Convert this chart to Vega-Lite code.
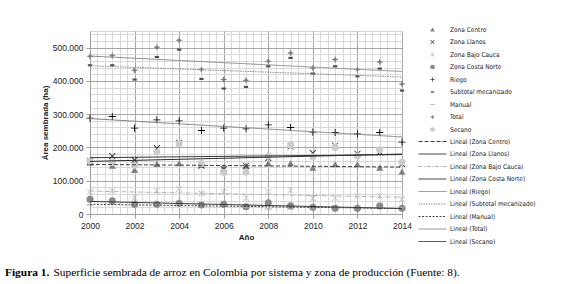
{
  "$schema": "https://vega.github.io/schema/vega-lite/v6.json",
  "autosize": "none",
  "width": 312,
  "height": 183,
  "padding": {"left": 90, "top": 31, "right": 166, "bottom": 70},
  "background": "white",
  "config": {
    "view": {"stroke": "#d4d4d4", "strokeWidth": 1},
    "axis": {"labelFont": "Liberation Sans", "labelFontSize": 8.5, "labelColor": "#222222", "titleFont": "Liberation Sans", "titleFontSize": 8, "titleFontWeight": "bold", "titleColor": "#222222", "domainColor": "#a0a0a0"},
    "legend": {"labelFont": "DejaVu Sans Condensed, Liberation Sans, sans-serif", "labelFontSize": 6.5, "labelColor": "#222222", "padding": 0, "rowPadding": 5.5, "labelOffset": 14}
  },
  "title": {
    "text": "Figura 1.",
    "subtitle": "\u200b\u00a0\u00a0\u00a0\u00a0\u00a0\u00a0\u00a0\u00a0\u00a0\u00a0\u00a0\u00a0\u00a0\u00a0\u00a0\u00a0\u00a0Superficie sembrada de arroz en Colombia por sistema y zona de producción (Fuente: 8).",
    "orient": "bottom",
    "anchor": "start",
    "frame": "group",
    "dx": -85,
    "offset": 22,
    "font": "Liberation Serif",
    "fontSize": 11.4,
    "fontWeight": "bold",
    "color": "#000000",
    "subtitleFont": "Liberation Serif",
    "subtitleFontSize": 11.4,
    "subtitleFontWeight": "normal",
    "subtitleColor": "#000000",
    "subtitlePadding": -11.4
  },
  "datasets": {
    "trends": [
      {"series": "Zona Centro", "trend": "Lineal (Zona Centro)"},
      {"series": "Zona Llanos", "trend": "Lineal (Zona Llanos)"},
      {"series": "Zona Bajo Cauca", "trend": "Lineal (Zona Bajo Cauca)"},
      {"series": "Zona Costa Norte", "trend": "Lineal (Zona Costa Norte)"},
      {"series": "Riego", "trend": "Lineal (Riego)"},
      {"series": "Subtotal mecanizado", "trend": "Lineal (Subtotal mecanizado)"},
      {"series": "Manual", "trend": "Lineal (Manual)"},
      {"series": "Total", "trend": "Lineal (Total)"},
      {"series": "Secano", "trend": "Lineal (Secano)"}
    ]
  },
  "data": {"values": [
    {"year": 2000, "series": "Zona Centro", "value": 154500},
    {"year": 2001, "series": "Zona Centro", "value": 145500},
    {"year": 2002, "series": "Zona Centro", "value": 132500},
    {"year": 2003, "series": "Zona Centro", "value": 150500},
    {"year": 2004, "series": "Zona Centro", "value": 152500},
    {"year": 2005, "series": "Zona Centro", "value": 147500},
    {"year": 2006, "series": "Zona Centro", "value": 138000},
    {"year": 2007, "series": "Zona Centro", "value": 144500},
    {"year": 2008, "series": "Zona Centro", "value": 152500},
    {"year": 2009, "series": "Zona Centro", "value": 152500},
    {"year": 2010, "series": "Zona Centro", "value": 139500},
    {"year": 2011, "series": "Zona Centro", "value": 149500},
    {"year": 2012, "series": "Zona Centro", "value": 149500},
    {"year": 2013, "series": "Zona Centro", "value": 139500},
    {"year": 2014, "series": "Zona Centro", "value": 127500},
    {"year": 2000, "series": "Zona Llanos", "value": 159000},
    {"year": 2001, "series": "Zona Llanos", "value": 174000},
    {"year": 2002, "series": "Zona Llanos", "value": 162000},
    {"year": 2003, "series": "Zona Llanos", "value": 198000},
    {"year": 2004, "series": "Zona Llanos", "value": 214000},
    {"year": 2005, "series": "Zona Llanos", "value": 145000},
    {"year": 2006, "series": "Zona Llanos", "value": 135000},
    {"year": 2007, "series": "Zona Llanos", "value": 145000},
    {"year": 2008, "series": "Zona Llanos", "value": 168000},
    {"year": 2009, "series": "Zona Llanos", "value": 203000},
    {"year": 2010, "series": "Zona Llanos", "value": 183000},
    {"year": 2011, "series": "Zona Llanos", "value": 205000},
    {"year": 2012, "series": "Zona Llanos", "value": 181000},
    {"year": 2013, "series": "Zona Llanos", "value": 186000},
    {"year": 2014, "series": "Zona Llanos", "value": 150000},
    {"year": 2000, "series": "Zona Bajo Cauca", "value": 67000},
    {"year": 2001, "series": "Zona Bajo Cauca", "value": 69000},
    {"year": 2002, "series": "Zona Bajo Cauca", "value": 49000},
    {"year": 2003, "series": "Zona Bajo Cauca", "value": 69000},
    {"year": 2004, "series": "Zona Bajo Cauca", "value": 75000},
    {"year": 2005, "series": "Zona Bajo Cauca", "value": 62000},
    {"year": 2006, "series": "Zona Bajo Cauca", "value": 67000},
    {"year": 2007, "series": "Zona Bajo Cauca", "value": 49000},
    {"year": 2008, "series": "Zona Bajo Cauca", "value": 67000},
    {"year": 2009, "series": "Zona Bajo Cauca", "value": 72000},
    {"year": 2010, "series": "Zona Bajo Cauca", "value": 47000},
    {"year": 2011, "series": "Zona Bajo Cauca", "value": 49000},
    {"year": 2012, "series": "Zona Bajo Cauca", "value": 54000},
    {"year": 2013, "series": "Zona Bajo Cauca", "value": 54000},
    {"year": 2014, "series": "Zona Bajo Cauca", "value": 44000},
    {"year": 2000, "series": "Zona Costa Norte", "value": 44000},
    {"year": 2001, "series": "Zona Costa Norte", "value": 40000},
    {"year": 2002, "series": "Zona Costa Norte", "value": 29000},
    {"year": 2003, "series": "Zona Costa Norte", "value": 29000},
    {"year": 2004, "series": "Zona Costa Norte", "value": 32000},
    {"year": 2005, "series": "Zona Costa Norte", "value": 27000},
    {"year": 2006, "series": "Zona Costa Norte", "value": 29000},
    {"year": 2007, "series": "Zona Costa Norte", "value": 22000},
    {"year": 2008, "series": "Zona Costa Norte", "value": 34000},
    {"year": 2009, "series": "Zona Costa Norte", "value": 25000},
    {"year": 2010, "series": "Zona Costa Norte", "value": 20000},
    {"year": 2011, "series": "Zona Costa Norte", "value": 17000},
    {"year": 2012, "series": "Zona Costa Norte", "value": 17000},
    {"year": 2013, "series": "Zona Costa Norte", "value": 24000},
    {"year": 2014, "series": "Zona Costa Norte", "value": 17000},
    {"year": 2000, "series": "Riego", "value": 288000},
    {"year": 2001, "series": "Riego", "value": 293000},
    {"year": 2002, "series": "Riego", "value": 258000},
    {"year": 2003, "series": "Riego", "value": 283000},
    {"year": 2004, "series": "Riego", "value": 280000},
    {"year": 2005, "series": "Riego", "value": 251000},
    {"year": 2006, "series": "Riego", "value": 258000},
    {"year": 2007, "series": "Riego", "value": 256000},
    {"year": 2008, "series": "Riego", "value": 268000},
    {"year": 2009, "series": "Riego", "value": 260000},
    {"year": 2010, "series": "Riego", "value": 246000},
    {"year": 2011, "series": "Riego", "value": 245000},
    {"year": 2012, "series": "Riego", "value": 241000},
    {"year": 2013, "series": "Riego", "value": 245000},
    {"year": 2014, "series": "Riego", "value": 216000},
    {"year": 2000, "series": "Subtotal mecanizado", "value": 447000},
    {"year": 2001, "series": "Subtotal mecanizado", "value": 447000},
    {"year": 2002, "series": "Subtotal mecanizado", "value": 404000},
    {"year": 2003, "series": "Subtotal mecanizado", "value": 472000},
    {"year": 2004, "series": "Subtotal mecanizado", "value": 494000},
    {"year": 2005, "series": "Subtotal mecanizado", "value": 406000},
    {"year": 2006, "series": "Subtotal mecanizado", "value": 377000},
    {"year": 2007, "series": "Subtotal mecanizado", "value": 382000},
    {"year": 2008, "series": "Subtotal mecanizado", "value": 444000},
    {"year": 2009, "series": "Subtotal mecanizado", "value": 469000},
    {"year": 2010, "series": "Subtotal mecanizado", "value": 422000},
    {"year": 2011, "series": "Subtotal mecanizado", "value": 444000},
    {"year": 2012, "series": "Subtotal mecanizado", "value": 414000},
    {"year": 2013, "series": "Subtotal mecanizado", "value": 437000},
    {"year": 2014, "series": "Subtotal mecanizado", "value": 371000},
    {"year": 2000, "series": "Manual", "value": 27000},
    {"year": 2001, "series": "Manual", "value": 29000},
    {"year": 2002, "series": "Manual", "value": 28000},
    {"year": 2003, "series": "Manual", "value": 29000},
    {"year": 2004, "series": "Manual", "value": 28000},
    {"year": 2005, "series": "Manual", "value": 28000},
    {"year": 2006, "series": "Manual", "value": 27000},
    {"year": 2007, "series": "Manual", "value": 20000},
    {"year": 2008, "series": "Manual", "value": 15000},
    {"year": 2009, "series": "Manual", "value": 15000},
    {"year": 2010, "series": "Manual", "value": 17000},
    {"year": 2011, "series": "Manual", "value": 20000},
    {"year": 2012, "series": "Manual", "value": 20000},
    {"year": 2013, "series": "Manual", "value": 20000},
    {"year": 2014, "series": "Manual", "value": 19000},
    {"year": 2000, "series": "Total", "value": 474000},
    {"year": 2001, "series": "Total", "value": 476000},
    {"year": 2002, "series": "Total", "value": 432000},
    {"year": 2003, "series": "Total", "value": 501000},
    {"year": 2004, "series": "Total", "value": 522000},
    {"year": 2005, "series": "Total", "value": 434000},
    {"year": 2006, "series": "Total", "value": 404000},
    {"year": 2007, "series": "Total", "value": 402000},
    {"year": 2008, "series": "Total", "value": 459000},
    {"year": 2009, "series": "Total", "value": 484000},
    {"year": 2010, "series": "Total", "value": 439000},
    {"year": 2011, "series": "Total", "value": 464000},
    {"year": 2012, "series": "Total", "value": 434000},
    {"year": 2013, "series": "Total", "value": 457000},
    {"year": 2014, "series": "Total", "value": 391000},
    {"year": 2000, "series": "Secano", "value": 159000},
    {"year": 2001, "series": "Secano", "value": 155000},
    {"year": 2002, "series": "Secano", "value": 146000},
    {"year": 2003, "series": "Secano", "value": 186000},
    {"year": 2004, "series": "Secano", "value": 212000},
    {"year": 2005, "series": "Secano", "value": 152000},
    {"year": 2006, "series": "Secano", "value": 125000},
    {"year": 2007, "series": "Secano", "value": 126000},
    {"year": 2008, "series": "Secano", "value": 174000},
    {"year": 2009, "series": "Secano", "value": 207000},
    {"year": 2010, "series": "Secano", "value": 172000},
    {"year": 2011, "series": "Secano", "value": 200000},
    {"year": 2012, "series": "Secano", "value": 174000},
    {"year": 2013, "series": "Secano", "value": 193000},
    {"year": 2014, "series": "Secano", "value": 156000}
  ]},
  "encoding": {
    "x": {
      "field": "year", "type": "quantitative",
      "scale": {"domain": [2000, 2014], "nice": false, "zero": false},
      "axis": {
        "title": "Año",
        "values": [2000, 2000.3333, 2000.6667, 2001, 2001.3333, 2001.6667, 2002, 2002.3333, 2002.6667, 2003, 2003.3333, 2003.6667, 2004, 2004.3333, 2004.6667, 2005, 2005.3333, 2005.6667, 2006, 2006.3333, 2006.6667, 2007, 2007.3333, 2007.6667, 2008, 2008.3333, 2008.6667, 2009, 2009.3333, 2009.6667, 2010, 2010.3333, 2010.6667, 2011, 2011.3333, 2011.6667, 2012, 2012.3333, 2012.6667, 2013, 2013.3333, 2013.6667, 2014],
        "labelExpr": "abs(datum.value - round(datum.value/2)*2) < 0.01 ? format(datum.value, 'd') : ''",
        "labelOverlap": false,
        "labelFlush": false,
        "labelPadding": 3,
        "titlePadding": 4,
        "tickSize": 4,
        "tickColor": {"condition": {"test": "abs(datum.value - round(datum.value/2)*2) < 0.01", "value": "#a0a0a0"}, "value": "transparent"},
        "gridColor": {"condition": {"test": "abs(datum.value - round(datum.value/2)*2) < 0.01", "value": "#a6a6a6"}, "value": "#d9d9d9"},
        "gridWidth": 1
      }
    },
    "y": {
      "field": "value", "type": "quantitative",
      "scale": {"domain": [0, 550000], "nice": false},
      "axis": {
        "title": "Área sembrada (ha)",
        "values": [0, 20000, 40000, 60000, 80000, 100000, 120000, 140000, 160000, 180000, 200000, 220000, 240000, 260000, 280000, 300000, 320000, 340000, 360000, 380000, 400000, 420000, 440000, 460000, 480000, 500000, 520000, 540000],
        "labelExpr": "datum.value % 100000 == 0 ? (datum.value == 0 ? '0' : format(datum.value/1000, 'd') + '.000') : ''",
        "labelOverlap": false,
        "labelFlush": false,
        "labelPadding": 3,
        "titlePadding": 3,
        "tickSize": 4,
        "tickColor": {"condition": {"test": "datum.value % 100000 == 0", "value": "#a0a0a0"}, "value": "transparent"},
        "gridColor": {"condition": {"test": "datum.value % 100000 == 0", "value": "#a6a6a6"}, "value": "#d9d9d9"},
        "gridWidth": 1
      }
    }
  },
  "layer": [
    {
      "mark": {"type": "point", "filled": true, "size": 50, "opacity": 1},
      "encoding": {
        "color": {
          "field": "series", "type": "nominal",
          "scale": {
            "domain": ["Zona Centro", "Zona Llanos", "Zona Bajo Cauca", "Zona Costa Norte", "Riego", "Subtotal mecanizado", "Manual", "Total", "Secano"],
            "range": ["#7f7f7f", "#303030", "#c4c4c4", "#8a8a8a", "#000000", "#4d4d4d", "#a6a6a6", "#7f7f7f", "#cccccc"]
          },
          "legend": {"orient": "none", "legendX": 339, "legendY": -5, "symbolSize": 22, "title": null}
        },
        "shape": {
          "field": "series", "type": "nominal",
          "scale": {
            "domain": ["Zona Centro", "Zona Llanos", "Zona Bajo Cauca", "Zona Costa Norte", "Riego", "Subtotal mecanizado", "Manual", "Total", "Secano"],
            "range": [
              "triangle-up",
              "M-0.765,-0.935L0.935,0.765L0.765,0.935L-0.935,-0.765ZM-0.935,0.765L0.765,-0.935L0.935,-0.765L-0.765,0.935Z",
              "M-0.765,-0.935L0.935,0.765L0.765,0.935L-0.935,-0.765ZM-0.935,0.765L0.765,-0.935L0.935,-0.765L-0.765,0.935ZM-0.1,-1L0.1,-1L0.1,1L-0.1,1Z",
              "circle",
              "M-1,-0.12H-0.12V-1H0.12V-0.12H1V0.12H0.12V1H-0.12V0.12H-1Z",
              "M-0.6,-0.3H0.6V0.3H-0.6Z",
              "M-1,-0.15H1V0.15H-1Z",
              "M0,-1L0.28,-0.28L1,0L0.28,0.28L0,1L-0.28,0.28L-1,0L-0.28,-0.28Z",
              "circle"
            ]
          },
          "legend": {"orient": "none", "legendX": 339, "legendY": -5, "symbolSize": 22, "title": null}
        }
      }
    },
    {
      "transform": [
        {"regression": "value", "on": "year", "groupby": ["series"], "method": "linear"},
        {"lookup": "series", "from": {"data": {"name": "trends"}, "key": "series", "fields": ["trend"]}}
      ],
      "mark": {"type": "line", "strokeWidth": 1},
      "encoding": {
        "stroke": {
          "field": "trend", "type": "nominal",
          "scale": {
            "domain": ["Lineal (Zona Centro)", "Lineal (Zona Llanos)", "Lineal (Zona Bajo Cauca)", "Lineal (Zona Costa Norte)", "Lineal (Riego)", "Lineal (Subtotal mecanizado)", "Lineal (Manual)", "Lineal (Total)", "Lineal (Secano)"],
            "range": ["#404040", "#333333", "#b0b0b0", "#333333", "#808080", "#8c8c8c", "#404040", "#8c8c8c", "#262626"]
          },
          "legend": {"orient": "none", "legendX": 339, "legendY": 107, "symbolType": "M-5,0H5", "symbolSize": 31, "symbolStrokeWidth": 1, "title": null}
        },
        "strokeDash": {
          "field": "trend", "type": "nominal",
          "scale": {
            "domain": ["Lineal (Zona Centro)", "Lineal (Zona Llanos)", "Lineal (Zona Bajo Cauca)", "Lineal (Zona Costa Norte)", "Lineal (Riego)", "Lineal (Subtotal mecanizado)", "Lineal (Manual)", "Lineal (Total)", "Lineal (Secano)"],
            "range": [[4, 2], [1, 0], [4, 1.5, 1, 1.5], [1, 0], [1, 0], [1.5, 1], [2, 1.5], [1, 0], [1, 0]]
          },
          "legend": {"orient": "none", "legendX": 339, "legendY": 107, "symbolType": "M-5,0H5", "symbolSize": 31, "symbolStrokeWidth": 1, "title": null}
        }
      }
    }
  ]
}
